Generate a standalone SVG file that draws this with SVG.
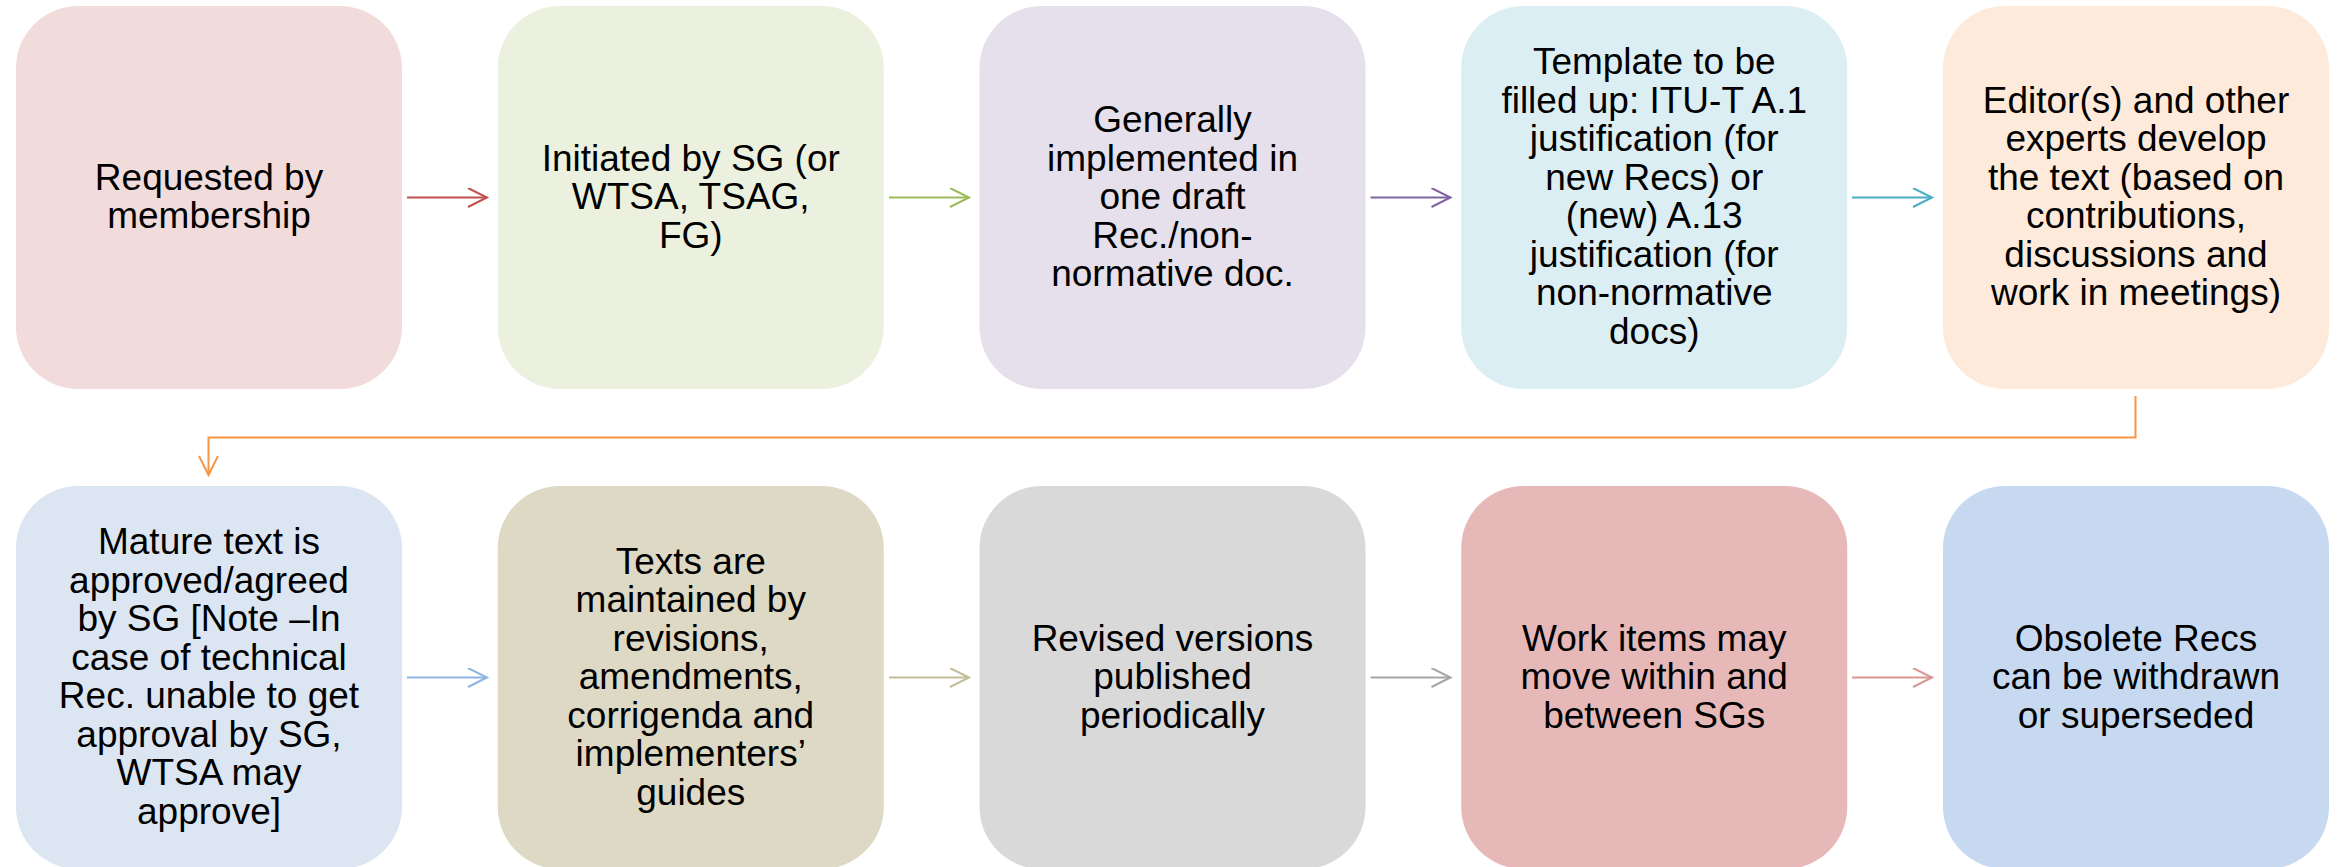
<svg xmlns="http://www.w3.org/2000/svg" width="2338" height="867" viewBox="0 0 2338 867">
<style>
.box{stroke:none}
.t{font-family:"Liberation Sans",Arial,sans-serif;font-size:37px;fill:#000;text-anchor:middle}
.c{fill:none;stroke-width:2}
</style>
<defs>
<marker id="mRed" markerUnits="userSpaceOnUse" markerWidth="24" markerHeight="24" refX="20" refY="10" orient="auto"><path d="M1,0.5 L20,10 L1,19.5" fill="none" stroke="#C0504D" stroke-width="2"/></marker>
<marker id="mGreen" markerUnits="userSpaceOnUse" markerWidth="24" markerHeight="24" refX="20" refY="10" orient="auto"><path d="M1,0.5 L20,10 L1,19.5" fill="none" stroke="#9BBB59" stroke-width="2"/></marker>
<marker id="mPurple" markerUnits="userSpaceOnUse" markerWidth="24" markerHeight="24" refX="20" refY="10" orient="auto"><path d="M1,0.5 L20,10 L1,19.5" fill="none" stroke="#8064A2" stroke-width="2"/></marker>
<marker id="mCyan" markerUnits="userSpaceOnUse" markerWidth="24" markerHeight="24" refX="20" refY="10" orient="auto"><path d="M1,0.5 L20,10 L1,19.5" fill="none" stroke="#4BACC6" stroke-width="2"/></marker>
<marker id="mOrange" markerUnits="userSpaceOnUse" markerWidth="24" markerHeight="24" refX="20" refY="10" orient="auto"><path d="M1,0.5 L20,10 L1,19.5" fill="none" stroke="#F79646" stroke-width="2"/></marker>
<marker id="mBlue" markerUnits="userSpaceOnUse" markerWidth="24" markerHeight="24" refX="20" refY="10" orient="auto"><path d="M1,0.5 L20,10 L1,19.5" fill="none" stroke="#8EB4E3" stroke-width="2"/></marker>
<marker id="mTan" markerUnits="userSpaceOnUse" markerWidth="24" markerHeight="24" refX="20" refY="10" orient="auto"><path d="M1,0.5 L20,10 L1,19.5" fill="none" stroke="#C4BD97" stroke-width="2"/></marker>
<marker id="mGray" markerUnits="userSpaceOnUse" markerWidth="24" markerHeight="24" refX="20" refY="10" orient="auto"><path d="M1,0.5 L20,10 L1,19.5" fill="none" stroke="#A6A6A6" stroke-width="2"/></marker>
<marker id="mPink" markerUnits="userSpaceOnUse" markerWidth="24" markerHeight="24" refX="20" refY="10" orient="auto"><path d="M1,0.5 L20,10 L1,19.5" fill="none" stroke="#D99694" stroke-width="2"/></marker>
</defs>
<rect width="2338" height="867" fill="#FFFFFF"/>

<g id="connectors">
<path class="c" stroke="#C0504D" d="M407,197.5 H487" marker-end="url(#mRed)"/>
<path class="c" stroke="#9BBB59" d="M889,197.5 H969" marker-end="url(#mGreen)"/>
<path class="c" stroke="#8064A2" d="M1370.5,197.5 H1450.5" marker-end="url(#mPurple)"/>
<path class="c" stroke="#4BACC6" d="M1852,197.5 H1932" marker-end="url(#mCyan)"/>
<path class="c" stroke="#F79646" d="M2135.5,396 V437.5 H208.5 V475" marker-end="url(#mOrange)"/>
<path class="c" stroke="#8EB4E3" d="M407,677.5 H487" marker-end="url(#mBlue)"/>
<path class="c" stroke="#C4BD97" d="M889,677.5 H969" marker-end="url(#mTan)"/>
<path class="c" stroke="#A6A6A6" d="M1370.5,677.5 H1450.5" marker-end="url(#mGray)"/>
<path class="c" stroke="#D99694" d="M1852,677.5 H1932" marker-end="url(#mPink)"/>
</g>

<g id="n1">
<rect class="box" x="16" y="6" width="386" height="383" rx="62" fill="#F2DCDB"/>
<text class="t" x="209" y="189.75"><tspan x="209">Requested by</tspan><tspan x="209" dy="38.5">membership</tspan></text>
</g>
<g id="n2">
<rect class="box" x="497.75" y="6" width="386" height="383" rx="62" fill="#EBF1DE"/>
<text class="t" x="690.75" y="170.5"><tspan x="690.75">Initiated by SG (or</tspan><tspan x="690.75" dy="38.5">WTSA, TSAG,</tspan><tspan x="690.75" dy="38.5">FG)</tspan></text>
</g>
<g id="n3">
<rect class="box" x="979.5" y="6" width="386" height="383" rx="62" fill="#E5E0EC"/>
<text class="t" x="1172.5" y="132"><tspan x="1172.5">Generally</tspan><tspan x="1172.5" dy="38.5">implemented in</tspan><tspan x="1172.5" dy="38.5">one draft</tspan><tspan x="1172.5" dy="38.5">Rec./non-</tspan><tspan x="1172.5" dy="38.5">normative doc.</tspan></text>
</g>
<g id="n4">
<rect class="box" x="1461.25" y="6" width="386" height="383" rx="62" fill="#DBEEF4"/>
<text class="t" x="1654.25" y="74.25"><tspan x="1654.25">Template to be</tspan><tspan x="1654.25" dy="38.5">filled up: ITU-T A.1</tspan><tspan x="1654.25" dy="38.5">justification (for</tspan><tspan x="1654.25" dy="38.5">new Recs) or</tspan><tspan x="1654.25" dy="38.5">(new) A.13</tspan><tspan x="1654.25" dy="38.5">justification (for</tspan><tspan x="1654.25" dy="38.5">non-normative</tspan><tspan x="1654.25" dy="38.5">docs)</tspan></text>
</g>
<g id="n5">
<rect class="box" x="1943" y="6" width="386" height="383" rx="62" fill="#FDEADA"/>
<text class="t" x="2136" y="112.75"><tspan x="2136">Editor(s) and other</tspan><tspan x="2136" dy="38.5">experts develop</tspan><tspan x="2136" dy="38.5">the text (based on</tspan><tspan x="2136" dy="38.5">contributions,</tspan><tspan x="2136" dy="38.5">discussions and</tspan><tspan x="2136" dy="38.5">work in meetings)</tspan></text>
</g>

<g id="n6">
<rect class="box" x="16" y="486" width="386" height="383" rx="62" fill="#DCE6F2"/>
<text class="t" x="209" y="554.25"><tspan x="209">Mature text is</tspan><tspan x="209" dy="38.5">approved/agreed</tspan><tspan x="209" dy="38.5">by SG [Note –In</tspan><tspan x="209" dy="38.5">case of technical</tspan><tspan x="209" dy="38.5">Rec. unable to get</tspan><tspan x="209" dy="38.5">approval by SG,</tspan><tspan x="209" dy="38.5">WTSA may</tspan><tspan x="209" dy="38.5">approve]</tspan></text>
</g>
<g id="n7">
<rect class="box" x="497.75" y="486" width="386" height="383" rx="62" fill="#DDD9C4"/>
<text class="t" x="690.75" y="573.5"><tspan x="690.75">Texts are</tspan><tspan x="690.75" dy="38.5">maintained by</tspan><tspan x="690.75" dy="38.5">revisions,</tspan><tspan x="690.75" dy="38.5">amendments,</tspan><tspan x="690.75" dy="38.5">corrigenda and</tspan><tspan x="690.75" dy="38.5">implementers’</tspan><tspan x="690.75" dy="38.5">guides</tspan></text>
</g>
<g id="n8">
<rect class="box" x="979.5" y="486" width="386" height="383" rx="62" fill="#D9D9D9"/>
<text class="t" x="1172.5" y="650.5"><tspan x="1172.5">Revised versions</tspan><tspan x="1172.5" dy="38.5">published</tspan><tspan x="1172.5" dy="38.5">periodically</tspan></text>
</g>
<g id="n9">
<rect class="box" x="1461.25" y="486" width="386" height="383" rx="62" fill="#E6B9B8"/>
<text class="t" x="1654.25" y="650.5"><tspan x="1654.25">Work items may</tspan><tspan x="1654.25" dy="38.5">move within and</tspan><tspan x="1654.25" dy="38.5">between SGs</tspan></text>
</g>
<g id="n10">
<rect class="box" x="1943" y="486" width="386" height="383" rx="62" fill="#C6D9F1"/>
<text class="t" x="2136" y="650.5"><tspan x="2136">Obsolete Recs</tspan><tspan x="2136" dy="38.5">can be withdrawn</tspan><tspan x="2136" dy="38.5">or superseded</tspan></text>
</g>
</svg>
